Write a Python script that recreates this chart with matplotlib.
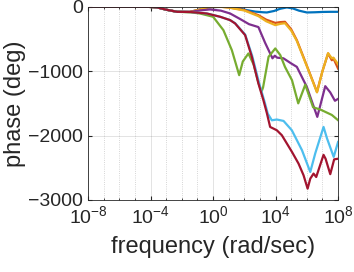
import numpy as np
import matplotlib
matplotlib.use('Agg')
import matplotlib.pyplot as plt
from matplotlib.ticker import LogLocator, FixedLocator, NullFormatter

plt.rcParams['font.family'] = ['Liberation Sans', 'DejaVu Sans']
plt.rcParams['mathtext.fontset'] = 'custom'
plt.rcParams['mathtext.rm'] = 'Liberation Sans'

# log10 of frequency and phase (deg), one pair per curve
blue_w = [-8, -4.2, -3.6, -3.0, -2.3, -1.5, -0.8, -0.3, 0.5, 1.2, 1.7, 2.16, 2.7, 3.2, 3.44, 3.9, 4.3, 4.72, 5.1, 5.5, 6.0, 6.5, 7.0, 7.5, 8]
blue_p = [0, 0, -8, -45, -78, -80, -40, -8, 0, -3, -25, -52, -75, -85, -88, -65, -30, -10, -25, -60, -88, -85, -80, -78, -78]

orange_w = [-8, -4.2, -3.6, -3.0, -2.3, -1.5, -0.8, -0.3, 0.5, 1.0, 2.0, 2.9, 3.4, 3.98, 4.3, 4.6, 5.0, 5.36, 5.8, 6.2, 6.65, 7.0, 7.36, 7.6, 7.7, 8.0]
orange_p = [0, 0, -8, -45, -78, -80, -40, -5, 0, -10, -50, -130, -200, -250, -238, -233, -350, -518, -790, -1040, -1322, -1000, -725, -830, -800, -960]

yellow_w = [-8, -4.2, -3.6, -3.0, -2.3, -1.5, -0.8, -0.3, 0.5, 1.0, 2.0, 2.9, 3.4, 3.98, 4.3, 4.6, 5.0, 5.36, 5.8, 6.2, 6.65, 7.0, 7.36, 7.6, 7.7, 8.0]
yellow_p = [0, 0, -8, -45, -78, -80, -40, -5, 0, -12, -58, -145, -225, -285, -265, -255, -370, -530, -800, -1045, -1330, -1000, -720, -800, -790, -890]

purple_w = [-8, -4.2, -3.6, -3.0, -2.3, -1.5, -0.8, -0.2, 0.5, 1.09, 1.73, 2.3, 2.9, 3.33, 3.8, 3.95, 4.1, 4.5, 5.0, 5.36, 6.0, 6.67, 7.18, 7.5, 7.8, 8.0]
purple_p = [0, 0, -8, -45, -78, -80, -55, -41, -60, -104, -190, -270, -315, -560, -800, -760, -790, -800, -880, -933, -1244, -1710, -1233, -1330, -1460, -1430]

green_w = [-8, -4.2, -3.6, -3.0, -2.3, -1.5, -0.84, 0, 0.66, 1.2, 1.67, 1.9, 2.26, 2.6, 2.9, 3.1, 3.2, 3.55, 3.98, 4.3, 4.6, 5.05, 5.45, 5.9, 6.4, 6.9, 7.6, 8.0]
green_p = [0, 0, -8, -45, -78, -85, -104, -155, -363, -674, -1062, -850, -725, -900, -1180, -1320, -1250, -777, -647, -750, -933, -1140, -1500, -1210, -1560, -1600, -1680, -1762]

lblue_w = [-8, -4.2, -3.6, -3.0, -2.3, -1.5, -0.8, -0.4, 0.45, 1.09, 1.41, 2.05, 2.5, 2.95, 3.3, 3.5, 3.76, 4.08, 4.51, 5.04, 5.69, 6.22, 6.54, 7.07, 7.29, 7.72, 8.0]
lblue_p = [0, 0, -8, -45, -78, -80, -95, -104, -155, -207, -255, -430, -760, -1190, -1480, -1660, -1763, -1751, -1773, -1918, -2228, -2566, -2276, -1866, -2043, -2332, -2100]

red_w = [-8, -4.2, -3.6, -3.0, -2.3, -1.5, -0.8, -0.4, 0.45, 1.09, 1.41, 2.05, 2.48, 2.9, 3.22, 3.44, 3.65, 4.08, 4.4, 5.05, 5.47, 5.79, 6.05, 6.22, 6.43, 6.6, 7.07, 7.2, 7.5, 7.75, 8.0]
red_p = [0, 0, -8, -45, -78, -80, -95, -104, -155, -207, -259, -440, -777, -1191, -1451, -1650, -1866, -1918, -1995, -2255, -2436, -2617, -2825, -2670, -2591, -2644, -2300, -2360, -2600, -2370, -2360]

series = [
    (blue_w, blue_p, (0, 0.447, 0.741)),
    (orange_w, orange_p, (0.85, 0.325, 0.098)),
    (yellow_w, yellow_p, (0.929, 0.694, 0.125)),
    (purple_w, purple_p, (0.494, 0.184, 0.556)),
    (green_w, green_p, (0.466, 0.674, 0.188)),
    (lblue_w, lblue_p, (0.301, 0.745, 0.933)),
    (red_w, red_p, (0.635, 0.078, 0.184)),
]

fig = plt.figure(figsize=(3.54, 2.72), dpi=100)
ax = fig.add_axes([0.249, 0.265, 0.706, 0.71])

for w, p, c in series:
    ax.semilogx(10.0 ** np.array(w), p, color=c, lw=1.6)

ax.set_xlim(1e-8, 1e8)
ax.set_ylim(-3000, 0)
ax.xaxis.set_major_locator(FixedLocator([1e-8, 1e-4, 1e0, 1e4, 1e8]))
ax.xaxis.set_minor_locator(LogLocator(base=10, subs=(1.0,), numticks=40))
ax.xaxis.set_minor_formatter(NullFormatter())
ax.set_yticks([-3000, -2000, -1000, 0])

ax.grid(True, which='major', color=(0.15, 0.15, 0.15), alpha=0.15, lw=0.6)
ax.grid(True, which='minor', axis='x', color=(0.15, 0.15, 0.15), alpha=0.25, lw=0.6, ls=':')
ax.tick_params(which='both', direction='in', top=True, right=True, colors=(0.15, 0.15, 0.15), labelsize=14)
ax.tick_params(which='major', length=3)
ax.tick_params(which='minor', length=1.5)
ax.tick_params(axis='x', pad=4)
for s in ax.spines.values():
    s.set_color((0.15, 0.15, 0.15))
    s.set_linewidth(0.6)

ax.set_xlabel('frequency (rad/sec)', fontsize=17, color=(0.15, 0.15, 0.15), labelpad=6)
ax.set_ylabel('phase (deg)', fontsize=17, color=(0.15, 0.15, 0.15), labelpad=2)

fig.savefig('out.png', dpi=100)
